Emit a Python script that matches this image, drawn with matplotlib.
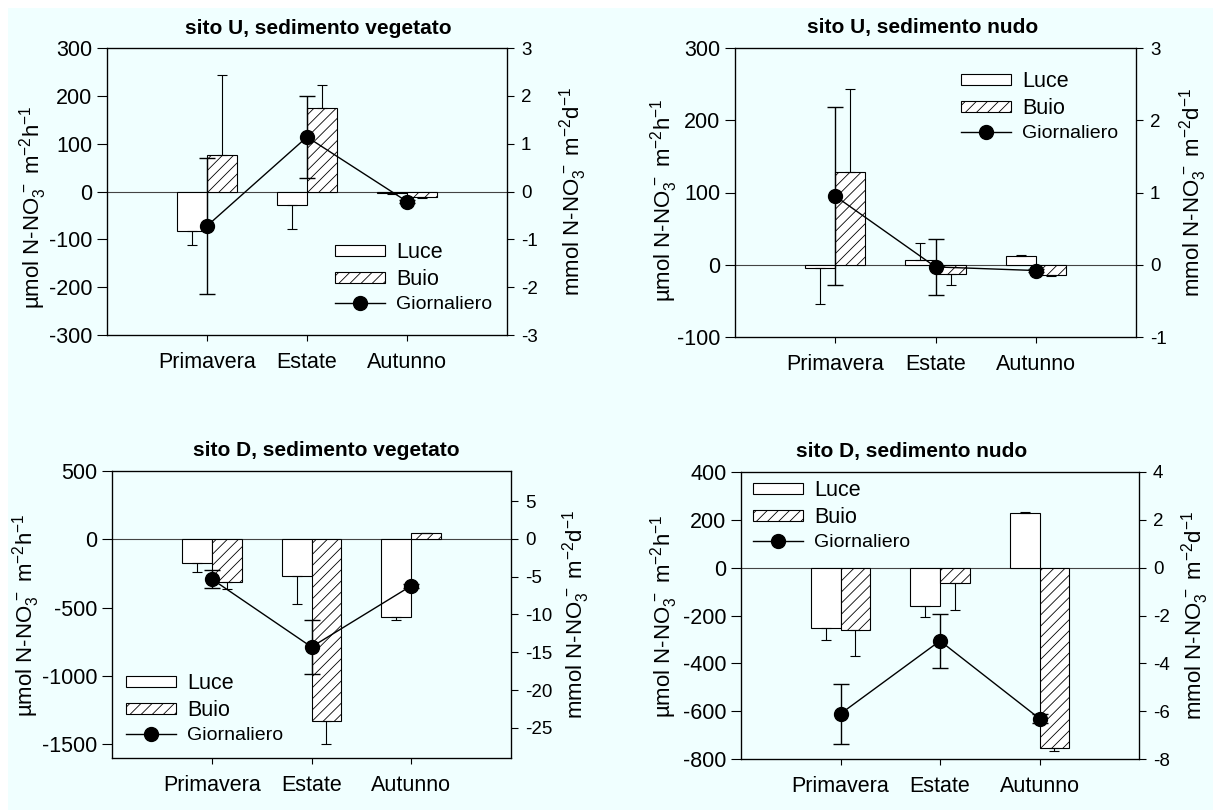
import numpy as np
import matplotlib
matplotlib.use('Agg')
import matplotlib.pyplot as plt
from matplotlib.patches import Rectangle

plt.rcParams['font.family'] = ['Liberation Sans', 'DejaVu Sans']
plt.rcParams['mathtext.fontset'] = 'custom'
plt.rcParams['mathtext.rm'] = 'Liberation Sans'
plt.rcParams['mathtext.it'] = 'Liberation Sans:italic'
plt.rcParams['mathtext.bf'] = 'Liberation Sans:bold'
plt.rcParams['axes.unicode_minus'] = False
plt.rcParams['hatch.linewidth'] = 0.6
plt.rcParams['hatch.color'] = 'black'

stagioni = ['Primavera', 'Estate', 'Autunno']

# sito U, sedimento vegetato (µmol/h; giornaliero in mmol/d)
u_veg_luce = [-83, -29, -3]
u_veg_luce_err = [29, 50, 2]
u_veg_buio = [76, 174, -12]
u_veg_buio_err = [167, 48, 2]
u_veg_giorn = [-0.72, 1.14, -0.21]
u_veg_giorn_err = [1.42, 0.86, 0.03]

# sito U, sedimento nudo
u_nudo_luce = [-5, 6, 12.5]
u_nudo_luce_err = [49, 24, 1]
u_nudo_buio = [128, -13, -14]
u_nudo_buio_err = [115, 15, 1]
u_nudo_giorn = [0.95, -0.03, -0.08]
u_nudo_giorn_err = [1.23, 0.39, 0.02]

# sito D, sedimento vegetato
d_veg_luce = [-174, -267, -569]
d_veg_luce_err = [66, 208, 21]
d_veg_buio = [-309, -1328, 47]
d_veg_buio_err = [56, 172, 0]
d_veg_giorn = [-5.3, -14.3, -6.2]
d_veg_giorn_err = [1.15, 3.6, 0.3]

# sito D, sedimento nudo
d_nudo_luce = [-252, -159, 228]
d_nudo_luce_err = [49, 47, 6]
d_nudo_buio = [-259, -63, -756]
d_nudo_buio_err = [111, 112, 11]
d_nudo_giorn = [-6.11, -3.06, -6.31]
d_nudo_giorn_err = [1.26, 1.13, 0.19]

W, H = 1213, 810
BG = '#f0ffff'

fig = plt.figure(figsize=(W / 100, H / 100), dpi=100)
fig.patch.set_facecolor('white')
fig.patches.append(Rectangle((8 / W, 0), 1, 1 - 8 / H, transform=fig.transFigure,
                             facecolor=BG, edgecolor='none', zorder=-10))

YLAB = 'µmol N-NO$_3^{\\,-}$ m$^{-2}$h$^{-1}$'
YLAB2 = 'mmol N-NO$_3^{\\,-}$ m$^{-2}$d$^{-1}$'


def px_rect(l, r, t, b):
    return [l / W, 1 - b / H, (r - l) / W, (b - t) / H]


def pannello(box, titolo, luce, luce_err, buio, buio_err, giorn, giorn_err,
             ylim, yticks, ylim2, yticks2, leg_xy, tit_x, ylab_x, ylab_y, ylab2_x):
    l, r, t, b = box
    ax = fig.add_axes(px_rect(l, r, t, b))
    ax.set_facecolor('none')
    x = np.arange(1, 4)
    w = 0.3

    ax.axhline(0, color='#444444', lw=0.8, zorder=1)
    b1 = ax.bar(x - w / 2, luce, w, color='white', edgecolor='black', lw=0.8,
                label='Luce', zorder=2)
    b2 = ax.bar(x + w / 2, buio, w, color='white', edgecolor='black', lw=0.8,
                hatch='///', label='Buio', zorder=2)
    # error bars only on the side away from zero
    for xs, v, e in ((x - w / 2, luce, luce_err), (x + w / 2, buio, buio_err)):
        v = np.asarray(v, float)
        e = np.asarray(e, float)
        lo = np.where(v < 0, e, 0)
        hi = np.where(v >= 0, e, 0)
        ax.errorbar(xs, v, yerr=[lo, hi], fmt='none', ecolor='black',
                    elinewidth=0.8, capsize=3.5, capthick=0.8, zorder=3)

    ax.set_xlim(0, 4)
    ax.set_xticks(x)
    ax.set_xticklabels(stagioni)
    ax.set_ylim(*ylim)
    ax.set_yticks(yticks)
    for s in ax.spines.values():
        s.set_linewidth(0.9)
    ax.tick_params(axis='y', direction='out', length=7.5, width=0.8,
                   labelsize=15.5, pad=3)
    ax.tick_params(axis='x', direction='out', length=4, width=0.8,
                   labelsize=15.5, pad=8)

    ax2 = ax.twinx()
    ax2.errorbar(x, giorn, yerr=giorn_err, fmt='none', ecolor='black',
                 elinewidth=1, capsize=5.5, capthick=1, zorder=4)
    ln, = ax2.plot(x, giorn, '-o', color='black', lw=1, ms=10,
                   label='Giornaliero', zorder=5)
    ax2.set_ylim(*ylim2)
    ax2.set_yticks(yticks2)
    ax2.tick_params(axis='y', direction='out', length=5, width=0.8,
                    labelsize=13.5, pad=5)

    leg = ax2.legend([b1, b2, ln], ['Luce', 'Buio', 'Giornaliero'],
                     loc='upper left', bbox_to_anchor=(leg_xy[0] / W, 1 - leg_xy[1] / H),
                     bbox_transform=fig.transFigure, frameon=False,
                     fontsize=15.5, handlelength=2.3, handleheight=0.4,
                     handletextpad=0.55, labelspacing=0.28, borderpad=0,
                     borderaxespad=0)
    leg.get_texts()[2].set_fontsize(14)

    fig.text(tit_x / W, 1 - (t - 20) / H, titolo,
             fontsize=15, fontweight='bold', ha='center', va='center')
    fig.text(ylab_x / W, 1 - ylab_y / H, YLAB,
             fontsize=16, rotation=90, ha='center', va='center')
    fig.text(ylab2_x / W, 1 - ((t + b) / 2) / H, YLAB2,
             fontsize=16, rotation=90, ha='center', va='center')
    return ax


pannello((107, 507, 48, 335), 'sito U, sedimento vegetato',
         u_veg_luce, u_veg_luce_err, u_veg_buio, u_veg_buio_err,
         u_veg_giorn, u_veg_giorn_err,
         (-300, 300), range(-300, 301, 100), (-3, 3), range(-3, 4),
         leg_xy=(335, 242), tit_x=318, ylab_x=33, ylab_y=207, ylab2_x=573)

pannello((735, 1136, 48, 337), 'sito U, sedimento nudo',
         u_nudo_luce, u_nudo_luce_err, u_nudo_buio, u_nudo_buio_err,
         u_nudo_giorn, u_nudo_giorn_err,
         (-100, 300), range(-100, 301, 100), (-1, 3), range(-1, 4),
         leg_xy=(961, 71), tit_x=923, ylab_x=664, ylab_y=200, ylab2_x=1193)

pannello((112, 511, 471, 758), 'sito D, sedimento vegetato',
         d_veg_luce, d_veg_luce_err, d_veg_buio, d_veg_buio_err,
         d_veg_giorn, d_veg_giorn_err,
         (-1600, 500), range(-1500, 501, 500), (-29, 9), range(-25, 6, 5),
         leg_xy=(126, 673), tit_x=326, ylab_x=26, ylab_y=615, ylab2_x=576)

pannello((741, 1139, 472, 759), 'sito D, sedimento nudo',
         d_nudo_luce, d_nudo_luce_err, d_nudo_buio, d_nudo_buio_err,
         d_nudo_giorn, d_nudo_giorn_err,
         (-800, 400), range(-800, 401, 200), (-8, 4), range(-8, 5, 2),
         leg_xy=(753, 480), tit_x=912, ylab_x=664, ylab_y=616, ylab2_x=1195)

fig.savefig('out.png', dpi=100, facecolor=fig.get_facecolor())
